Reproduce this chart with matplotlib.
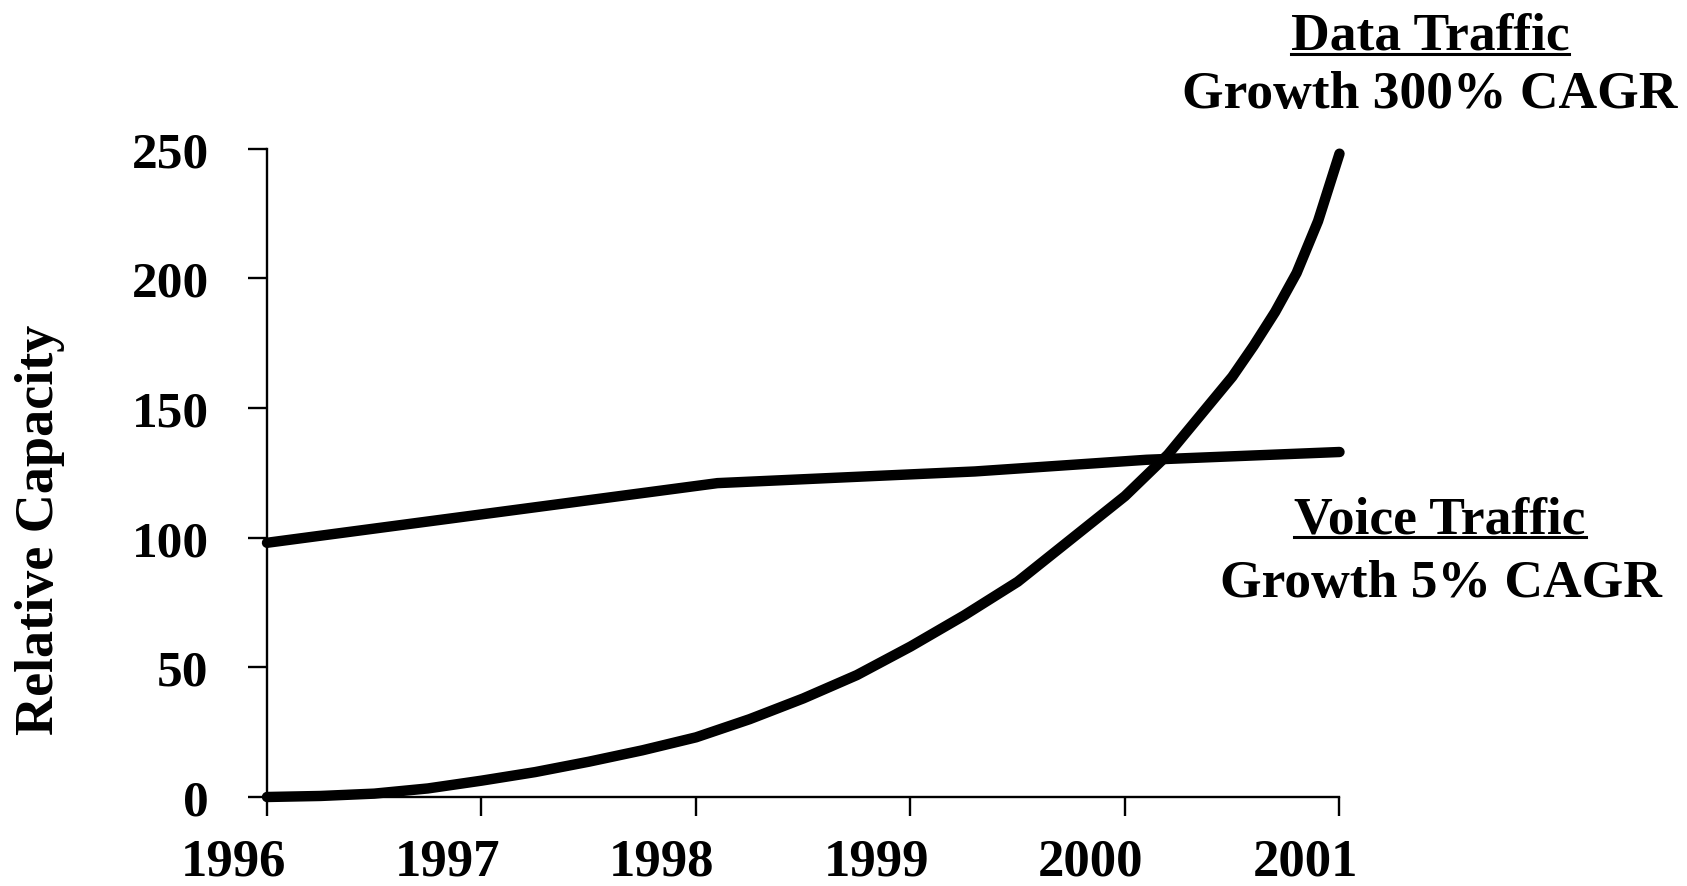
import matplotlib
matplotlib.use('Agg')
import matplotlib.pyplot as plt
from matplotlib.lines import Line2D
from matplotlib.transforms import ScaledTranslation

# Data
years = [1996, 1997, 1998, 1999, 2000, 2001]
data_x = [1996, 1996.25, 1996.5, 1996.75, 1997, 1997.25, 1997.5, 1997.75,
          1998, 1998.25, 1998.5, 1998.75, 1999, 1999.25, 1999.5, 1999.75,
          2000, 2000.2, 2000.35, 2000.5, 2000.6, 2000.7, 2000.8, 2000.9, 2001]
data_y = [0, 0.4, 1.3, 3.3, 6.3, 9.6, 13.6, 18, 23, 30, 38, 47, 58, 70, 83,
          99.5, 116, 132, 147, 162, 174, 187, 202, 222, 248]
voice_x = [1996, 1998.1, 1999.3, 2000.1, 2001]
voice_y = [98, 121, 125.5, 130, 133]
y_ticks = [0, 50, 100, 150, 200, 250]

plt.rcParams['font.family'] = ['Liberation Serif', 'DejaVu Serif']
plt.rcParams['font.weight'] = 'bold'

W, H = 1687, 887
fig = plt.figure(figsize=(W / 100, H / 100), dpi=100)
ax = fig.add_axes([267 / W, 1 - 798 / H, (1339.5 - 267) / W, (798 - 149.5) / H])

ax.plot(data_x, data_y, color='black', lw=7.5, solid_capstyle='round',
        solid_joinstyle='round', clip_on=False)
ax.plot(voice_x, voice_y, color='black', lw=7.5, solid_capstyle='round',
        solid_joinstyle='round', clip_on=False)

ax.set_xlim(1996, 2001)
ax.set_ylim(0, 250)
ax.set_xticks(years)
ax.set_yticks(y_ticks)
ax.spines['top'].set_visible(False)
ax.spines['right'].set_visible(False)
for s in ['left', 'bottom']:
    ax.spines[s].set_linewidth(1.7)
ax.tick_params(axis='both', direction='out', length=14, width=1.7)
ax.tick_params(axis='y', pad=28, labelsize=37)
ax.tick_params(axis='x', pad=15, labelsize=38)

# x labels sit a bit left of their ticks in the original
shift = ScaledTranslation(-0.34, 0, fig.dpi_scale_trans)
for lab in ax.get_xticklabels():
    lab.set_transform(lab.get_transform() + shift)
for lab in ax.get_xticklabels() + ax.get_yticklabels():
    lab.set_fontweight('bold')

# y axis label
fig.text(40 / W, 1 - 530 / H, 'Relative Capacity', rotation=90, fontsize=39,
         fontweight='bold', ha='center', va='center')

# annotations
labels = [
    ('Data Traffic', 1430, 50, True),
    ('Growth 300% CAGR', 1430, 108, False),
    ('Voice Traffic', 1440, 533, True),
    ('Growth 5% CAGR', 1441, 597, False),
]
texts = []
for s, x, y, ul in labels:
    t = fig.text(x / W, 1 - y / H, s, fontsize=38.5, fontweight='bold',
                 ha='center', va='baseline')
    texts.append((t, y, ul))

fig.canvas.draw()
r = fig.canvas.get_renderer()
for t, y, ul in texts:
    if ul:
        bb = t.get_window_extent(renderer=r)
        yy = 1 - (y + 5) / H
        fig.add_artist(Line2D([bb.x0 / W, bb.x1 / W], [yy, yy], color='black',
                              lw=2.2, transform=fig.transFigure))

fig.savefig('out.png', dpi=100, facecolor='white')
